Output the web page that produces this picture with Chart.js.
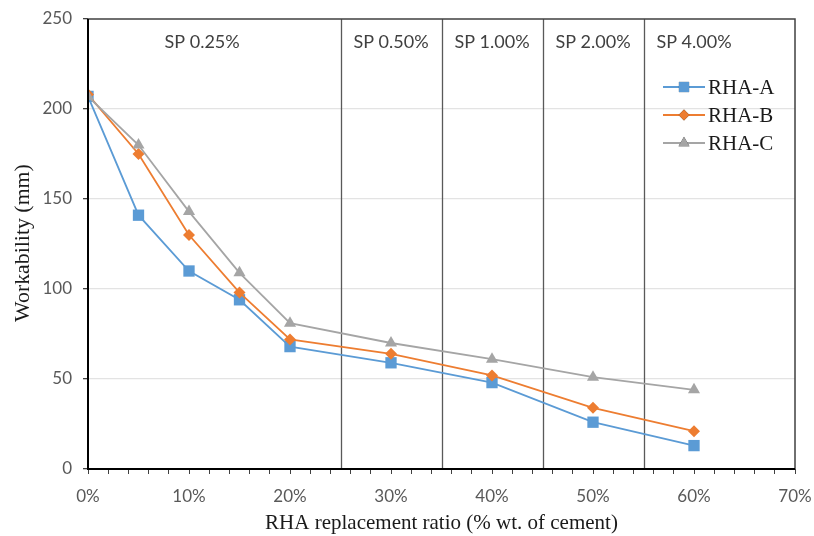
<!DOCTYPE html>
<html>
<head>
<meta charset="utf-8">
<script src="https://cdn.jsdelivr.net/npm/chart.js@4/dist/chart.umd.min.js"></script>
<style>
html,body{margin:0;padding:0;background:#fff;}
canvas{display:block;}
</style>
</head>
<body>
<canvas id="c" width="814" height="536"></canvas>
<script>
const ratios = [0, 5, 10, 15, 20, 30, 40, 50, 60];
const rhaA = [207, 141, 110, 94, 68, 59, 48, 26, 13];
const rhaB = [208, 175, 130, 98, 72, 64, 52, 34, 21];
const rhaC = [207, 180, 143, 109, 81, 70, 61, 51, 44];
const seriesNames = ['RHA-A', 'RHA-B', 'RHA-C'];
const spLabels = ['SP 0.25%', 'SP 0.50%', 'SP 1.00%', 'SP 2.00%', 'SP 4.00%'];
const spBoundaries = [25, 35, 45, 55];
const spLabelCenters = [11.3, 30, 40, 50, 60];
const xTitle = 'RHA replacement ratio (% wt. of cement)';
const yTitle = 'Workability (mm)';
const xMax = 70;
const yMax = 250;

const colors = ['#5b9bd5', '#ed7d31', '#a5a5a5'];
const styles = ['rect', 'rectRot', 'triangle'];
const radii = [8, 6, 7];

function toPts(vals){ return ratios.map((x,i)=>({x:x, y:vals[i]})); }
const seriesVals = [rhaA, rhaB, rhaC];

const datasets = seriesVals.map((v,i)=>({
  label: seriesNames[i],
  data: toPts(v),
  borderColor: colors[i],
  backgroundColor: colors[i],
  pointBackgroundColor: colors[i],
  pointBorderColor: colors[i],
  pointBorderWidth: 0,
  pointStyle: styles[i],
  pointRadius: radii[i],
  borderWidth: 1.8,
  tension: 0,
  order: 3 - i
}));

const decorPlugin = {
  id: 'decor',
  beforeDatasetsDraw(chart){
    const {ctx, chartArea:a, scales:{x, y}} = chart;
    ctx.save();
    ctx.strokeStyle = '#595959';
    ctx.lineWidth = 1.3;
    spBoundaries.forEach(v=>{
      const px = Math.round(x.getPixelForValue(v)) + 0.5;
      ctx.beginPath(); ctx.moveTo(px, a.top); ctx.lineTo(px, a.bottom); ctx.stroke();
    });
    ctx.fillStyle = '#404040';
    ctx.font = '18px Lato';
    ctx.textAlign = 'center';
    ctx.textBaseline = 'middle';
    spLabels.forEach((t,i)=>{
      ctx.fillText(t, x.getPixelForValue(spLabelCenters[i]), a.top + 23);
    });
    ctx.save();
    ctx.translate(23, 243);
    ctx.rotate(-Math.PI/2);
    ctx.scale(1.04, 1);
    ctx.fillStyle = '#1a1a1a';
    ctx.font = '21px "Liberation Serif"';
    ctx.fillText(yTitle, 0, 0);
    ctx.restore();
    ctx.restore();
  },
  afterDraw(chart){
    const {ctx, chartArea:a} = chart;
    ctx.save();
    ctx.strokeStyle = '#404040';
    ctx.lineWidth = 1.5;
    ctx.strokeRect(a.left, a.top, a.right - a.left, a.bottom - a.top);
    ctx.strokeStyle = '#000';
    ctx.lineWidth = 2;
    ctx.beginPath();
    ctx.moveTo(a.left, a.top); ctx.lineTo(a.left, a.bottom); ctx.lineTo(a.right, a.bottom);
    ctx.stroke();
    const lx0 = 663, lx1 = 705, ly0 = 87, lstep = 28;
    chart.data.datasets.forEach((d,i)=>{
      const yy = ly0 + i*lstep;
      ctx.strokeStyle = d.borderColor;
      ctx.lineWidth = 1.8;
      ctx.beginPath(); ctx.moveTo(lx0, yy); ctx.lineTo(lx1, yy); ctx.stroke();
      Chart.helpers.drawPoint(ctx, {pointStyle: d.pointStyle, rotation: 0, borderWidth: 0, radius: d.pointRadius*0.9}, (lx0+lx1)/2, yy);
      ctx.fillStyle = d.backgroundColor;
      ctx.fill();
      ctx.fillStyle = '#1a1a1a';
      ctx.font = '21px "Liberation Serif"';
      ctx.textAlign = 'left';
      ctx.textBaseline = 'middle';
      ctx.fillText(d.label, lx1 + 3, yy + 1);
    });
    ctx.restore();
  }
};

new Chart(document.getElementById('c'), {
  type: 'line',
  data: { datasets },
  plugins: [decorPlugin],
  options: {
    responsive: false,
    animation: false,
    events: [],
    layout: { padding: { left: 0, right: 19, top: 19, bottom: 0 } },
    plugins: { legend: { display: false }, tooltip: { enabled: false } },
    scales: {
      x: {
        type: 'linear',
        min: 0, max: xMax,
        afterFit(s){ s.height = 67; s.paddingLeft = 0; s.paddingRight = 0; },
        ticks: {
          stepSize: 2, autoSkip: false, maxRotation: 0,
          color: '#595959', font: { family: 'Lato', size: 17 }, padding: 12,
          callback: v => (v % 10 === 0 ? v + '%' : '')
        },
        grid: { display: true, drawOnChartArea: false, drawTicks: true, tickLength: 5, color: '#404040', lineWidth: 1 },
        border: { display: false },
        title: { display: true, text: xTitle, color: '#1a1a1a',
                 font: { family: 'Liberation Serif', size: 21 }, padding: { top: 0, bottom: 0 } }
      },
      y: {
        min: 0, max: yMax,
        afterFit(s){ s.width = 88; s.paddingTop = 0; s.paddingBottom = 0; },
        ticks: { stepSize: 50, color: '#595959', font: { family: 'Lato', size: 17 }, padding: 11 },
        grid: { color: ctx => ctx.tick && (ctx.tick.value === 0 || ctx.tick.value === yMax) ? 'rgba(0,0,0,0)' : '#e3e3e3',
                tickColor: '#404040', tickLength: 5, lineWidth: 1.3 },
        border: { display: false },
        title: { display: false }
      }
    }
  }
});
</script>
</body>
</html>
